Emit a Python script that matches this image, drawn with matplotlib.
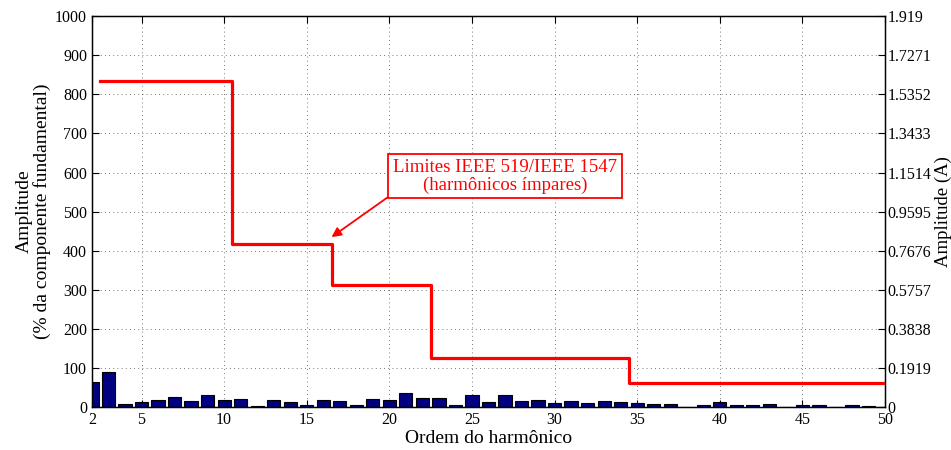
import matplotlib
matplotlib.use('Agg')
import matplotlib.pyplot as plt
import numpy as np

plt.rcParams['font.family'] = ['Liberation Serif', 'DejaVu Serif']
plt.rcParams['mathtext.fontset'] = 'stix'

# harmonic orders and amplitudes (% of fundamental)
orders = list(range(2, 51))
amps = [64, 89, 9, 13, 19, 27, 16, 32, 19, 21,
        3, 19, 13, 6, 19, 16, 6, 21, 19, 37,
        25, 25, 6, 32, 13, 32, 16, 19, 10, 16,
        10, 16, 13, 10, 9, 9, 2, 6, 13, 6,
        6, 9, 2, 6, 6, 2, 6, 3, 2]

# IEEE 519 / IEEE 1547 limits (odd harmonics), step edges
lim_x = [2.5, 10.5, 16.5, 22.5, 34.5, 50]
lim_y = [833.3, 416.7, 312.5, 125, 62.5, 62.5]

xticks = [2, 5, 10, 15, 20, 25, 30, 35, 40, 45, 50]
yticks = [0, 100, 200, 300, 400, 500, 600, 700, 800, 900, 1000]
rticks = [0, 0.1919, 0.3838, 0.5757, 0.7676, 0.9595, 1.1514, 1.3433, 1.5352, 1.7271, 1.919]
rlabels = ['0', '0.1919', '0.3838', '0.5757', '0.7676', '0.9595', '1.1514', '1.3433', '1.5352', '1.7271', '1.919']

fig = plt.figure(figsize=(9.51, 4.5), dpi=100)
ax = fig.add_axes([0.0967, 0.0949, 0.8339, 0.8695])

ax.bar(orders, amps, width=0.8, color='#000080', edgecolor='black', linewidth=0.8, zorder=2)
ax.step(lim_x, lim_y, where='post', color='red', linewidth=2.3, zorder=3)

ax.set_xlim(2, 50)
ax.set_ylim(0, 1000)
ax.set_xticks(xticks)
ax.set_yticks(yticks)
ax.tick_params(direction='in', length=5, labelsize=11.5, top=True, width=0.8)
ax.grid(True, linestyle=(0, (1, 4)), color='black', linewidth=0.6, alpha=0.7)
ax.set_axisbelow(True)
for s in ax.spines.values():
    s.set_linewidth(1.0)

ax.set_xlabel('Ordem do harmônico', fontsize=14, labelpad=1)
ax.set_ylabel('Amplitude\n(% da componente fundamental)', fontsize=14, labelpad=3,
              linespacing=1.0)

ax2 = ax.twinx()
ax2.set_ylim(0, 1.919)
ax2.set_yticks(rticks)
ax2.set_yticklabels(rlabels)
ax2.tick_params(direction='in', length=5, labelsize=11.5, width=0.8, pad=2)
ax2.set_ylabel('Amplitude (A)', fontsize=13.5, labelpad=2)

ax.annotate('Limites IEEE 519/IEEE 1547\n(harmônicos ímpares)',
            xy=(16.5, 435), xytext=(27.0, 591),
            fontsize=13.5, color='red', ha='center', va='center',
            linespacing=1.05,
            bbox=dict(boxstyle='square,pad=0.25', fc='white', ec='red', lw=1.3),
            arrowprops=dict(arrowstyle='-|>', color='red', lw=1.3,
                            mutation_scale=14, shrinkA=0, shrinkB=0,
                            relpos=(0, 0)),
            zorder=5)

fig.savefig('out.png', dpi=100)
